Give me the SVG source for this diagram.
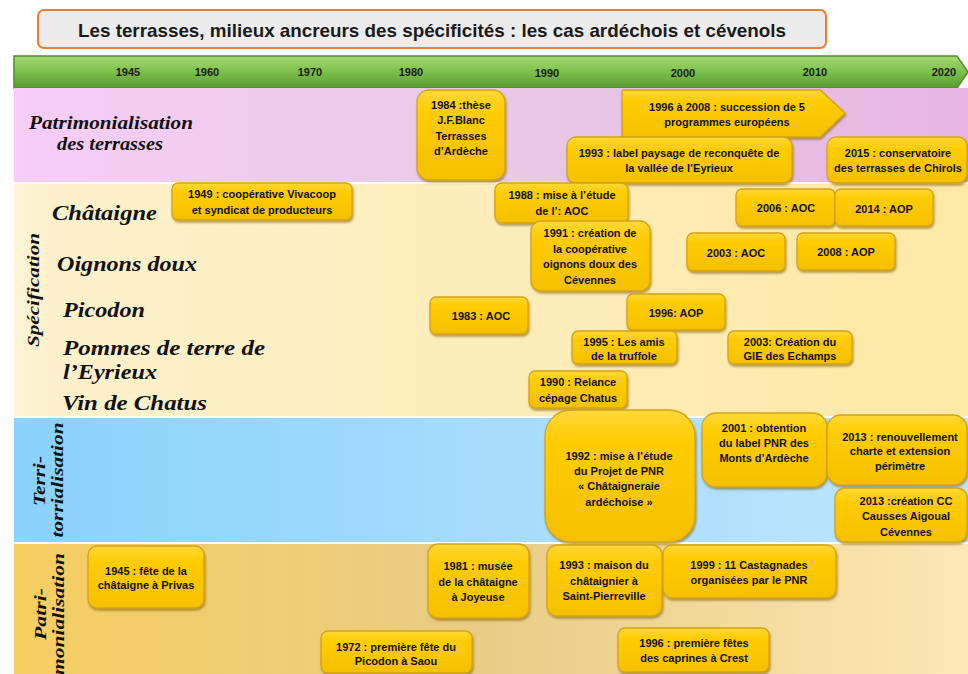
<svg xmlns="http://www.w3.org/2000/svg" width="968" height="674" viewBox="0 0 968 674">
<defs>
<linearGradient id="gPink" x1="0" y1="0" x2="1" y2="0"><stop offset="0" stop-color="#f7cdf7"/><stop offset="0.5" stop-color="#e8cbe6"/><stop offset="1" stop-color="#e8b5e2"/></linearGradient>
<linearGradient id="gCream" x1="0" y1="0" x2="1" y2="0"><stop offset="0" stop-color="#fdf5d8"/><stop offset="0.03" stop-color="#fcf1cc"/><stop offset="1" stop-color="#fde9a6"/></linearGradient>
<linearGradient id="gBlue" x1="0" y1="0" x2="1" y2="0"><stop offset="0" stop-color="#89d2fb"/><stop offset="1" stop-color="#c1e6fd"/></linearGradient>
<linearGradient id="gGold" x1="0" y1="0" x2="1" y2="0"><stop offset="0" stop-color="#f7ce62"/><stop offset="0.5" stop-color="#e9cc86"/><stop offset="1" stop-color="#fde8b4"/></linearGradient>
<linearGradient id="gGreen" x1="0" y1="0" x2="0" y2="1"><stop offset="0" stop-color="#a6d873"/><stop offset="0.5" stop-color="#7cc04a"/><stop offset="1" stop-color="#5a9c33"/></linearGradient>
<linearGradient id="gy" x1="0" y1="0" x2="0" y2="1"><stop offset="0" stop-color="#ffd83a"/><stop offset="0.25" stop-color="#ffcc00"/><stop offset="1" stop-color="#f5c000"/></linearGradient>
<filter id="sh" x="-10%" y="-10%" width="125%" height="130%"><feDropShadow dx="1" dy="2" stdDeviation="1.2" flood-color="#7a5a00" flood-opacity="0.55"/></filter>
</defs>
<style>
.bx{fill:url(#gy);stroke:#d6a413;stroke-width:1.3;filter:url(#sh)}
.t{font-family:'Liberation Sans',Arial,sans-serif;font-weight:bold;font-size:11px;fill:#111;text-anchor:middle}
.yr{font-family:'Liberation Sans',Arial,sans-serif;font-weight:bold;font-size:11px;fill:#1a1a1a;text-anchor:middle}
.lab{font-family:'Liberation Serif','DejaVu Serif',serif;font-style:italic;font-weight:bold;fill:#111}
.rot{font-family:'Liberation Serif','DejaVu Serif',serif;font-style:italic;font-weight:bold;fill:#111;font-size:17px;text-anchor:middle}
</style>

<rect width="968" height="674" fill="#ffffff"/>

<g id="title">
<rect x="38" y="10" width="788" height="38" rx="6" fill="#ececec" stroke="#ed7d31" stroke-width="2"/>
<text x="432" y="37" font-family="'Liberation Sans',Arial,sans-serif" font-weight="bold" font-size="18.5" fill="#1a1a1a" text-anchor="middle" textLength="708" lengthAdjust="spacingAndGlyphs">Les terrasses, milieux ancreurs des spécificités : les cas ardéchois et cévenols</text>
</g>

<g id="timeline">
<path d="M14,56 L957,56 L968,72 L957,88 L14,88 Z" fill="url(#gGreen)" stroke="#4f8a36" stroke-width="1.5"/>
<text class="yr" x="128" y="76">1945</text>
<text class="yr" x="207" y="76">1960</text>
<text class="yr" x="310" y="76">1970</text>
<text class="yr" x="411" y="76">1980</text>
<text class="yr" x="547" y="77">1990</text>
<text class="yr" x="683" y="77">2000</text>
<text class="yr" x="815" y="76">2010</text>
<text class="yr" x="944" y="76">2020</text>
</g>

<g id="bands">
<rect x="14" y="88" width="954" height="94" fill="url(#gPink)"/>
<rect x="14" y="184" width="954" height="232" fill="url(#gCream)"/>
<rect x="14" y="418" width="954" height="124" fill="url(#gBlue)"/>
<rect x="14" y="544" width="954" height="130" fill="url(#gGold)"/>
</g>

<g id="labels">
<text class="lab" x="111" y="129" font-size="18" text-anchor="middle" textLength="164" lengthAdjust="spacingAndGlyphs">Patrimonialisation</text>
<text class="lab" x="110" y="150" font-size="18" text-anchor="middle" textLength="106" lengthAdjust="spacingAndGlyphs">des terrasses</text>
<text class="lab" x="52" y="220" font-size="22" textLength="105" lengthAdjust="spacingAndGlyphs">Châtaigne</text>
<text class="lab" x="57" y="271" font-size="22" textLength="140" lengthAdjust="spacingAndGlyphs">Oignons doux</text>
<text class="lab" x="63" y="317" font-size="22" textLength="82" lengthAdjust="spacingAndGlyphs">Picodon</text>
<text class="lab" x="63" y="355" font-size="20" textLength="202" lengthAdjust="spacingAndGlyphs">Pommes de terre de</text>
<text class="lab" x="63" y="379" font-size="20" textLength="94" lengthAdjust="spacingAndGlyphs">l’Eyrieux</text>
<text class="lab" x="62" y="410" font-size="22" textLength="145" lengthAdjust="spacingAndGlyphs">Vin de Chatus</text>
<text class="rot" transform="translate(39,290) rotate(-90)" textLength="114" lengthAdjust="spacingAndGlyphs">Spécification</text>
<text class="rot" transform="translate(45,481) rotate(-90)" textLength="50" lengthAdjust="spacingAndGlyphs">Terri-</text>
<text class="rot" transform="translate(63,480) rotate(-90)" textLength="115" lengthAdjust="spacingAndGlyphs">torrialisation</text>
<text class="rot" transform="translate(46,614) rotate(-90)" textLength="52" lengthAdjust="spacingAndGlyphs">Patri-</text>
<text class="rot" transform="translate(64,614) rotate(-90)" textLength="122" lengthAdjust="spacingAndGlyphs">monialisation</text>
</g>

<g id="n1984"><rect class="bx" x="417" y="90" width="88" height="90" rx="12"/>
<text class="t" x="461" y="109">1984 :thèse</text><text class="t" x="461" y="124">J.F.Blanc</text><text class="t" x="461" y="140">Terrasses</text><text class="t" x="461" y="155">d’Ardèche</text></g>

<g id="n1996eu"><path class="bx" d="M624,90 L820,90 L845,113 L820,137 L624,137 Q622,137 622,135 L622,92 Q622,90 624,90 Z"/>
<text class="t" x="727" y="111">1996 à 2008 : succession de 5</text><text class="t" x="727" y="126">programmes européens</text></g>

<g id="n1993label"><rect class="bx" x="567" y="137" width="225" height="46" rx="9"/>
<text class="t" x="679" y="157">1993 : label paysage de reconquête de</text><text class="t" x="679" y="172">la vallée de l’Eyrieux</text></g>

<g id="n2015"><rect class="bx" x="827" y="137" width="140" height="46" rx="9"/>
<text class="t" x="898" y="157">2015 : conservatoire</text><text class="t" x="898" y="172">des terrasses de Chirols</text></g>

<g id="n1949"><rect class="bx" x="172" y="183" width="180" height="37" rx="6"/>
<text class="t" x="262" y="198">1949 : coopérative Vivacoop</text><text class="t" x="262" y="214">et syndicat de producteurs</text></g>

<g id="n1988"><rect class="bx" x="495" y="183" width="133" height="40" rx="7"/>
<text class="t" x="562" y="199">1988 : mise à l’étude</text><text class="t" x="562" y="215">de l’: AOC</text></g>

<g id="n1991"><rect class="bx" x="531" y="221" width="119" height="70" rx="10"/>
<text class="t" x="590" y="237">1991 : création de</text><text class="t" x="590" y="253">la coopérative</text><text class="t" x="590" y="268">oignons doux des</text><text class="t" x="590" y="284">Cévennes</text></g>

<g id="n2006"><rect class="bx" x="736" y="189" width="99" height="37" rx="6"/>
<text class="t" x="786" y="212">2006 : AOC</text></g>

<g id="n2014"><rect class="bx" x="835" y="189" width="98" height="37" rx="6"/>
<text class="t" x="884" y="213">2014 : AOP</text></g>

<g id="n2003aoc"><rect class="bx" x="687" y="233" width="98" height="38" rx="6"/>
<text class="t" x="736" y="257">2003 : AOC</text></g>

<g id="n2008"><rect class="bx" x="797" y="233" width="98" height="37" rx="6"/>
<text class="t" x="846" y="256">2008 : AOP</text></g>

<g id="n1983"><rect class="bx" x="430" y="297" width="98" height="37" rx="6"/>
<text class="t" x="481" y="320">1983 : AOC</text></g>

<g id="n1996aop"><rect class="bx" x="627" y="294" width="98" height="36" rx="6"/>
<text class="t" x="676" y="317">1996: AOP</text></g>

<g id="n1995"><rect class="bx" x="572" y="331" width="105" height="33" rx="6"/>
<text class="t" x="624" y="346">1995 : Les amis</text><text class="t" x="624" y="360">de la truffole</text></g>

<g id="n2003gie"><rect class="bx" x="728" y="331" width="124" height="33" rx="6"/>
<text class="t" x="790" y="346">2003:  Création du</text><text class="t" x="790" y="360">GIE des Echamps</text></g>

<g id="n1990"><rect class="bx" x="529" y="371" width="98" height="37" rx="6"/>
<text class="t" x="578" y="386">1990 :  Relance</text><text class="t" x="578" y="402">cépage Chatus</text></g>

<g id="n1992"><rect class="bx" x="545" y="410" width="150" height="132" rx="26"/>
<text class="t" x="619" y="460">1992 : mise à l’étude</text><text class="t" x="619" y="475">du Projet de PNR</text><text class="t" x="619" y="490">« Châtaigneraie</text><text class="t" x="619" y="506">ardéchoise »</text></g>

<g id="n2001"><rect class="bx" x="702" y="413" width="125" height="74" rx="14"/>
<text class="t" x="764" y="432">2001 : obtention</text><text class="t" x="764" y="447">du label PNR des</text><text class="t" x="764" y="462">Monts d’Ardèche</text></g>

<g id="n2013ren"><rect class="bx" x="827" y="415" width="140" height="70" rx="14"/>
<text class="t" x="900" y="441">2013 : renouvellement</text><text class="t" x="900" y="455">charte et extension</text><text class="t" x="900" y="470">périmètre</text></g>

<g id="n2013cc"><rect class="bx" x="835" y="488" width="132" height="54" rx="10"/>
<text class="t" x="906" y="505">2013 :création CC</text><text class="t" x="906" y="520">Causses Aigoual</text><text class="t" x="906" y="536">Cévennes</text></g>

<g id="n1945"><rect class="bx" x="88" y="546" width="116" height="62" rx="9"/>
<text class="t" x="146" y="575">1945 : fête de la</text><text class="t" x="146" y="589">châtaigne à Privas</text></g>

<g id="n1981"><rect class="bx" x="428" y="544" width="101" height="74" rx="10"/>
<text class="t" x="478" y="570">1981 : musée</text><text class="t" x="478" y="586">de la châtaigne</text><text class="t" x="478" y="601">à Joyeuse</text></g>

<g id="n1993maison"><rect class="bx" x="547" y="545" width="115" height="71" rx="10"/>
<text class="t" x="604" y="569">1993 : maison du</text><text class="t" x="604" y="585">châtaignier à</text><text class="t" x="604" y="600">Saint-Pierreville</text></g>

<g id="n1999"><rect class="bx" x="663" y="545" width="173" height="53" rx="9"/>
<text class="t" x="749" y="569">1999  : 11 Castagnades</text><text class="t" x="749" y="584">organisées par le PNR</text></g>

<g id="n1972"><rect class="bx" x="321" y="631" width="151" height="42" rx="7"/>
<text class="t" x="396" y="651">1972 : première fête du</text><text class="t" x="396" y="665">Picodon à Saou</text></g>

<g id="n1996fete"><rect class="bx" x="618" y="628" width="151" height="44" rx="7"/>
<text class="t" x="694" y="647">1996 : première fêtes</text><text class="t" x="694" y="662">des caprines à Crest</text></g>

<g id="connectors"/>
</svg>
